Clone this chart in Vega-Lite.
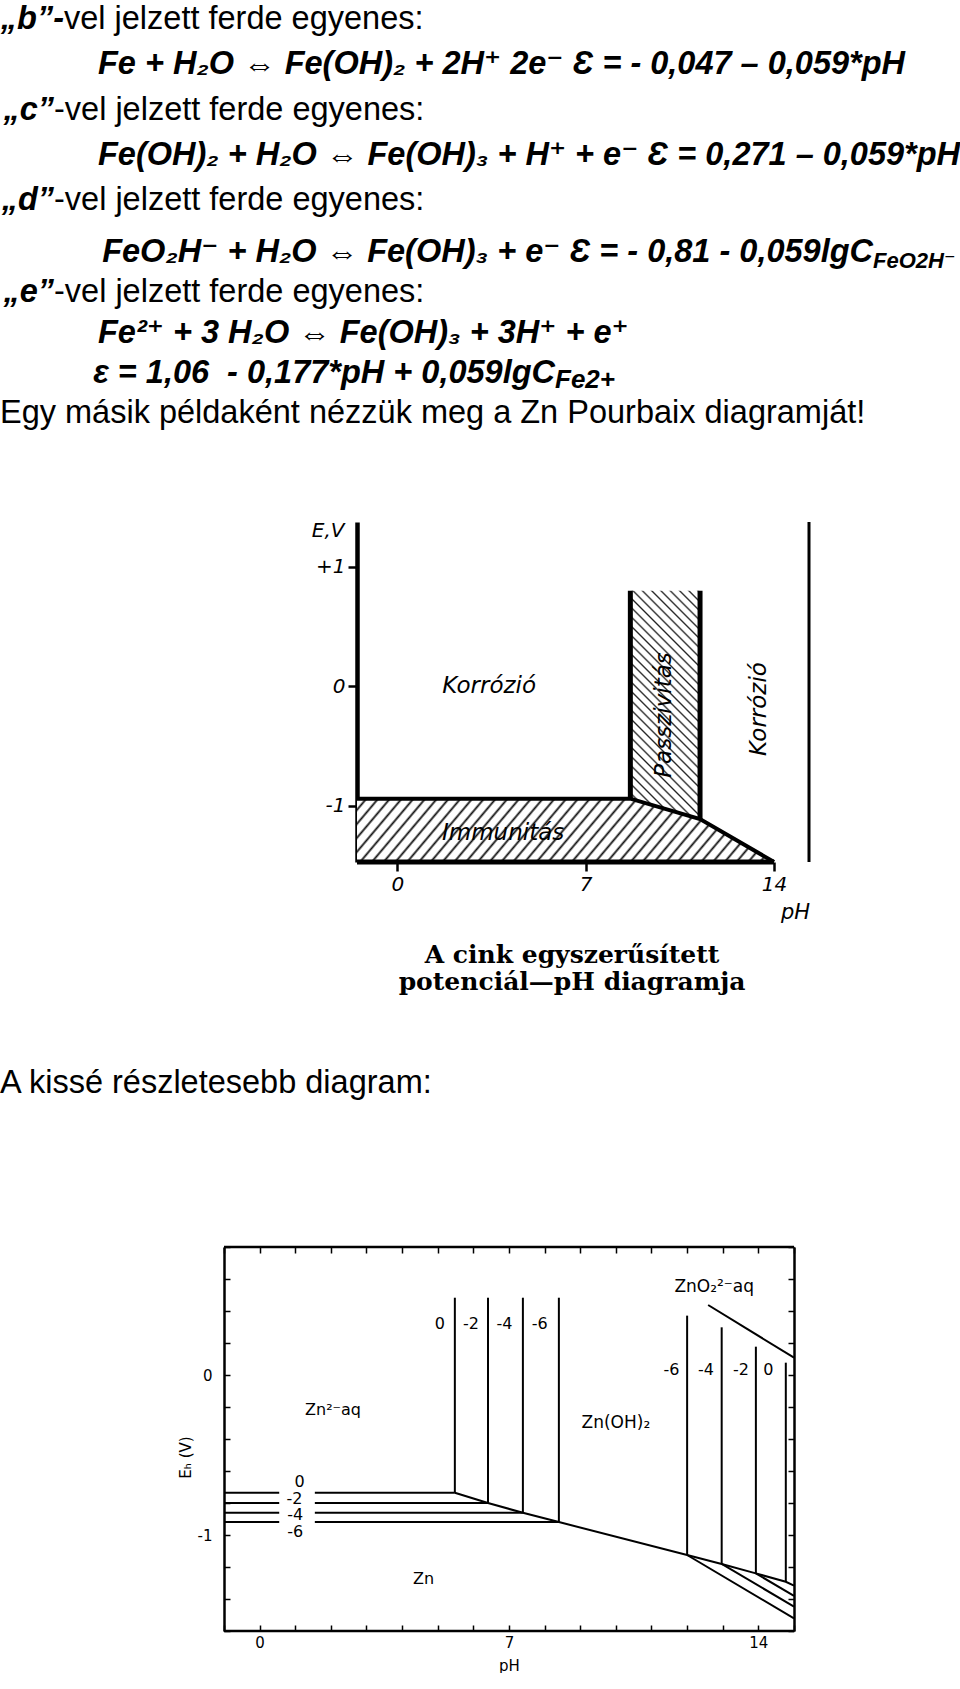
{
  "$schema": "https://vega.github.io/schema/vega-lite/v6.json",
  "padding": 0,
  "spacing": 0,
  "bounds": "flush",
  "background": "white",
  "config": {
    "view": {"stroke": null},
    "axis": {"grid": false, "domainColor": "#000", "tickColor": "#000", "labelColor": "#000", "titleColor": "#000"},
    "text": {"color": "#000"}
  },
  "datasets": {
    "page1": [
      {"line": 1, "col": 2, "role": "marker", "text": "„b”-"},
      {"line": 1, "col": 2, "role": "plain", "text": "vel jelzett ferde egyenes:"},
      {"line": 2, "col": 3, "role": "eq", "text": "Fe + H₂O ⇔ Fe(OH)₂ + 2H⁺ 2e⁻ Ɛ = - 0,047 – 0,059*pH"},
      {"line": 3, "col": 1, "role": "marker", "text": "„c”"},
      {"line": 3, "col": 1, "role": "plain", "text": "-vel jelzett ferde egyenes:"},
      {"line": 4, "col": 3, "role": "eq", "text": "Fe(OH)₂ + H₂O ⇔ Fe(OH)₃ + H⁺ + e⁻ Ɛ = 0,271 – 0,059*pH"},
      {"line": 5, "col": 1, "role": "marker", "text": "„d”"},
      {"line": 5, "col": 1, "role": "plain", "text": "-vel jelzett ferde egyenes:"},
      {"line": 6, "col": 5, "role": "eqr", "text": "FeO₂H⁻ + H₂O ⇔ Fe(OH)₃ + e⁻ Ɛ = - 0,81 - 0,059lgC"},
      {"line": 6, "col": 5, "role": "sub", "text": "FeO2H⁻"},
      {"line": 7, "col": 1, "role": "marker", "text": "„e”"},
      {"line": 7, "col": 1, "role": "plain", "text": "-vel jelzett ferde egyenes:"},
      {"line": 8, "col": 3, "role": "eq", "text": "Fe²⁺ + 3 H₂O ⇔ Fe(OH)₃ + 3H⁺ + e⁺"},
      {"line": 9, "col": 4, "role": "eqr", "text": "ε = 1,06 \u00a0- 0,177*pH + 0,059lgC"},
      {"line": 9, "col": 4, "role": "sub", "text": "Fe2+"},
      {"line": 10, "col": 0, "role": "plain", "text": "Egy másik példaként nézzük meg a Zn Pourbaix diagramját!"}
    ],
    "page2": [
      {"line": 1, "col": 1, "role": "cap", "text": "A cink egyszerűsített"},
      {"line": 2, "col": 1, "role": "cap", "text": "potenciál—pH diagramja"},
      {"line": 3, "col": 0, "role": "plain", "text": "A kissé részletesebb diagram:"}
    ],
    "zn1Immunity": [
      {"pH": -1.5, "E": -0.94},
      {"pH": 8.66, "E": -0.94},
      {"pH": 11.25, "E": -1.11},
      {"pH": 14, "E": -1.47}
    ],
    "zn1Passivity": [
      {"pH": 8.66, "E": 0.8, "E2": -0.94},
      {"pH": 11.25, "E": 0.8, "E2": -1.11}
    ],
    "zn1Lines": [
      {"part": "passive", "pH": 8.66, "E": -0.94, "pH2": 8.66, "E2": 0.8},
      {"part": "passive", "pH": 11.25, "E": -1.11, "pH2": 11.25, "E2": 0.8},
      {"part": "base", "pH": -1.5, "E": -1.47, "pH2": 14, "E2": -1.47},
      {"part": "edge", "pH": 15.3, "E": -1.47, "pH2": 15.3, "E2": 1.375}
    ],
    "zn1Labels": [
      {"dir": "h", "pH": 3.41, "E": 0.0, "label": "Korrózió"},
      {"dir": "h", "pH": 3.93, "E": -1.23, "label": "Immunitás"},
      {"dir": "v", "pH": 9.9, "E": -0.24, "label": "Passzivitás"},
      {"dir": "v", "pH": 13.45, "E": -0.19, "label": "Korrózió"}
    ],
    "zn2Frame": [
      {"pH": -1, "E": -1.6, "pH2": 15, "E2": -1.6},
      {"pH": -1, "E": 0.8, "pH2": 15, "E2": 0.8}
    ],
    "zn2Lines": [
      {"seg": "h0a", "i": 0, "pH": -1, "E": -0.736}, {"seg": "h0a", "i": 1, "pH": 0.55, "E": -0.736},
      {"seg": "h0b", "i": 0, "pH": 1.55, "E": -0.736}, {"seg": "h0b", "i": 1, "pH": 5.48, "E": -0.736},
      {"seg": "h2a", "i": 0, "pH": -1, "E": -0.8}, {"seg": "h2a", "i": 1, "pH": 0.55, "E": -0.8},
      {"seg": "h2b", "i": 0, "pH": 1.55, "E": -0.8}, {"seg": "h2b", "i": 1, "pH": 6.41, "E": -0.8},
      {"seg": "h4a", "i": 0, "pH": -1, "E": -0.861}, {"seg": "h4a", "i": 1, "pH": 0.55, "E": -0.861},
      {"seg": "h4b", "i": 0, "pH": 1.55, "E": -0.861}, {"seg": "h4b", "i": 1, "pH": 7.39, "E": -0.861},
      {"seg": "h6a", "i": 0, "pH": -1, "E": -0.919}, {"seg": "h6a", "i": 1, "pH": 0.55, "E": -0.919},
      {"seg": "h6b", "i": 0, "pH": 1.55, "E": -0.919}, {"seg": "h6b", "i": 1, "pH": 8.4, "E": -0.919},
      {"seg": "v0", "i": 0, "pH": 5.48, "E": -0.736}, {"seg": "v0", "i": 1, "pH": 5.48, "E": 0.483},
      {"seg": "v2", "i": 0, "pH": 6.41, "E": -0.8}, {"seg": "v2", "i": 1, "pH": 6.41, "E": 0.483},
      {"seg": "v4", "i": 0, "pH": 7.39, "E": -0.861}, {"seg": "v4", "i": 1, "pH": 7.39, "E": 0.483},
      {"seg": "v6", "i": 0, "pH": 8.4, "E": -0.919}, {"seg": "v6", "i": 1, "pH": 8.4, "E": 0.483},
      {"seg": "sl", "i": 0, "pH": 5.48, "E": -0.736},
      {"seg": "sl", "i": 1, "pH": 6.41, "E": -0.8},
      {"seg": "sl", "i": 2, "pH": 7.39, "E": -0.861},
      {"seg": "sl", "i": 3, "pH": 8.4, "E": -0.919},
      {"seg": "sl", "i": 4, "pH": 12, "E": -1.125},
      {"seg": "sl", "i": 5, "pH": 12.97, "E": -1.181},
      {"seg": "sl", "i": 6, "pH": 13.93, "E": -1.24},
      {"seg": "sl", "i": 7, "pH": 14.77, "E": -1.292},
      {"seg": "sl", "i": 8, "pH": 15, "E": -1.316},
      {"seg": "r6", "i": 0, "pH": 12, "E": -1.125}, {"seg": "r6", "i": 1, "pH": 12, "E": 0.371},
      {"seg": "r4", "i": 0, "pH": 12.97, "E": -1.181}, {"seg": "r4", "i": 1, "pH": 12.97, "E": 0.298},
      {"seg": "r2", "i": 0, "pH": 13.93, "E": -1.24}, {"seg": "r2", "i": 1, "pH": 13.93, "E": 0.177},
      {"seg": "r0", "i": 0, "pH": 14.77, "E": -1.292}, {"seg": "r0", "i": 1, "pH": 14.77, "E": 0.077},
      {"seg": "f6", "i": 0, "pH": 12, "E": -1.125}, {"seg": "f6", "i": 1, "pH": 15, "E": -1.521},
      {"seg": "f4", "i": 0, "pH": 12.97, "E": -1.181}, {"seg": "f4", "i": 1, "pH": 15, "E": -1.448},
      {"seg": "f2", "i": 0, "pH": 13.93, "E": -1.24}, {"seg": "f2", "i": 1, "pH": 15, "E": -1.381},
      {"seg": "zo", "i": 0, "pH": 12.59, "E": 0.4375}, {"seg": "zo", "i": 1, "pH": 15, "E": 0.108}
    ],
    "zn2Labels": [
      {"pH": 5.06, "E": 0.317, "label": "0"},
      {"pH": 5.93, "E": 0.317, "label": "-2"},
      {"pH": 6.87, "E": 0.317, "label": "-4"},
      {"pH": 7.86, "E": 0.317, "label": "-6"},
      {"pH": 11.56, "E": 0.031, "label": "-6"},
      {"pH": 12.53, "E": 0.031, "label": "-4"},
      {"pH": 13.51, "E": 0.031, "label": "-2"},
      {"pH": 14.28, "E": 0.031, "label": "0"},
      {"pH": 12.76, "E": 0.552, "label": "ZnO₂²⁻aq"},
      {"pH": 2.06, "E": -0.219, "label": "Zn²⁻aq"},
      {"pH": 10.0, "E": -0.3, "label": "Zn(OH)₂"},
      {"pH": 4.6, "E": -1.277, "label": "Zn"},
      {"pH": 1.12, "E": -0.667, "label": "0"},
      {"pH": 0.98, "E": -0.777, "label": "-2"},
      {"pH": 1.0, "E": -0.875, "label": "-4"},
      {"pH": 1.0, "E": -0.979, "label": "-6"}
    ]
  },
  "vconcat": [
    {
      "width": 960,
      "height": 522,
      "data": {"name": "page1"},
      "encoding": {
        "x": {"field": "col", "type": "quantitative", "scale": {"domain": [0, 1, 2, 3, 4, 5], "range": [0, 54, 64, 98, 555, 873], "nice": false, "zero": false}, "axis": null},
        "y": {"field": "line", "type": "quantitative", "scale": {"domain": [1, 5, 6, 10], "range": [19, 200, 252, 413], "nice": false, "zero": false}, "axis": null},
        "text": {"field": "text"}
      },
      "layer": [
        {"transform": [{"filter": "datum.role == 'marker'"}], "mark": {"type": "text", "align": "right", "baseline": "middle", "font": "Liberation Sans, DejaVu Sans", "fontSize": 32.5, "fontWeight": "bold", "fontStyle": "italic"}},
        {"transform": [{"filter": "datum.role == 'plain'"}], "mark": {"type": "text", "align": "left", "baseline": "middle", "font": "Liberation Sans, DejaVu Sans", "fontSize": 32.5}},
        {"transform": [{"filter": "datum.role == 'eq'"}], "mark": {"type": "text", "align": "left", "baseline": "middle", "font": "Liberation Sans, DejaVu Sans", "fontSize": 32.5, "fontWeight": "bold", "fontStyle": "italic"}},
        {"transform": [{"filter": "datum.role == 'eqr'"}], "mark": {"type": "text", "align": "right", "baseline": "middle", "font": "Liberation Sans, DejaVu Sans", "fontSize": 32.5, "fontWeight": "bold", "fontStyle": "italic"}},
        {"transform": [{"filter": "datum.role == 'sub' && datum.line == 6"}], "mark": {"type": "text", "align": "left", "baseline": "middle", "dy": 9, "font": "Liberation Sans, DejaVu Sans", "fontSize": 22, "fontWeight": "bold", "fontStyle": "italic"}},
        {"transform": [{"filter": "datum.role == 'sub' && datum.line == 9"}], "mark": {"type": "text", "align": "left", "baseline": "middle", "dy": 7, "font": "Liberation Sans, DejaVu Sans", "fontSize": 26, "fontWeight": "bold", "fontStyle": "italic"}}
      ]
    },
    {
      "width": 809,
      "height": 340,
      "encoding": {
        "x": {
          "field": "pH", "type": "quantitative",
          "scale": {"domain": [-14.77, 15.3], "nice": false, "zero": false},
          "axis": {
            "values": [0, 7, 14], "domain": false, "tickSize": 9, "tickWidth": 2.5,
            "labelFont": "DejaVu Sans", "labelFontStyle": "italic", "labelFontSize": 20, "labelPadding": 3,
            "title": "pH", "titleX": 795, "titleY": 50, "titleAlign": "center", "titleBaseline": "middle",
            "titleFont": "DejaVu Sans", "titleFontStyle": "italic", "titleFontWeight": "normal", "titleFontSize": 21
          }
        },
        "y": {
          "field": "E", "type": "quantitative",
          "scale": {"domain": [-1.47, 1.375], "nice": false, "zero": false},
          "axis": {
            "offset": -357,
            "values": [-1, 0, 1],
            "labelExpr": "datum.value > 0 ? '+1' : (datum.value < 0 ? '-1' : '0')",
            "domainWidth": 4.5, "tickSize": 9, "tickWidth": 2.5,
            "labelFont": "DejaVu Sans", "labelFontStyle": "italic", "labelFontSize": 20, "labelPadding": 3,
            "title": "E,V", "titleAngle": 0, "titleX": -13, "titleY": 8, "titleAlign": "right", "titleBaseline": "middle",
            "titleFont": "DejaVu Sans", "titleFontStyle": "italic", "titleFontWeight": "normal", "titleFontSize": 20
          }
        }
      },
      "layer": [
        {
          "data": {"name": "zn1Immunity"},
          "mark": {
            "type": "area", "stroke": null,
            "fill": {
              "gradient": "linear", "x1": 0, "y1": 0, "x2": 1.11, "y2": 0.142,
              "stops": [
                {"offset": 0.015, "color": "#fff"}, {"offset": 0.02, "color": "#111"}, {"offset": 0.025, "color": "#fff"},
                {"offset": 0.04, "color": "#fff"}, {"offset": 0.045, "color": "#111"}, {"offset": 0.05, "color": "#fff"},
                {"offset": 0.065, "color": "#fff"}, {"offset": 0.07, "color": "#111"}, {"offset": 0.075, "color": "#fff"},
                {"offset": 0.09, "color": "#fff"}, {"offset": 0.095, "color": "#111"}, {"offset": 0.1, "color": "#fff"},
                {"offset": 0.115, "color": "#fff"}, {"offset": 0.12, "color": "#111"}, {"offset": 0.125, "color": "#fff"},
                {"offset": 0.14, "color": "#fff"}, {"offset": 0.145, "color": "#111"}, {"offset": 0.15, "color": "#fff"},
                {"offset": 0.165, "color": "#fff"}, {"offset": 0.17, "color": "#111"}, {"offset": 0.175, "color": "#fff"},
                {"offset": 0.19, "color": "#fff"}, {"offset": 0.195, "color": "#111"}, {"offset": 0.2, "color": "#fff"},
                {"offset": 0.215, "color": "#fff"}, {"offset": 0.22, "color": "#111"}, {"offset": 0.225, "color": "#fff"},
                {"offset": 0.24, "color": "#fff"}, {"offset": 0.245, "color": "#111"}, {"offset": 0.25, "color": "#fff"},
                {"offset": 0.265, "color": "#fff"}, {"offset": 0.27, "color": "#111"}, {"offset": 0.275, "color": "#fff"},
                {"offset": 0.29, "color": "#fff"}, {"offset": 0.295, "color": "#111"}, {"offset": 0.3, "color": "#fff"},
                {"offset": 0.315, "color": "#fff"}, {"offset": 0.32, "color": "#111"}, {"offset": 0.325, "color": "#fff"},
                {"offset": 0.34, "color": "#fff"}, {"offset": 0.345, "color": "#111"}, {"offset": 0.35, "color": "#fff"},
                {"offset": 0.365, "color": "#fff"}, {"offset": 0.37, "color": "#111"}, {"offset": 0.375, "color": "#fff"},
                {"offset": 0.39, "color": "#fff"}, {"offset": 0.395, "color": "#111"}, {"offset": 0.4, "color": "#fff"},
                {"offset": 0.415, "color": "#fff"}, {"offset": 0.42, "color": "#111"}, {"offset": 0.425, "color": "#fff"},
                {"offset": 0.44, "color": "#fff"}, {"offset": 0.445, "color": "#111"}, {"offset": 0.45, "color": "#fff"},
                {"offset": 0.465, "color": "#fff"}, {"offset": 0.47, "color": "#111"}, {"offset": 0.475, "color": "#fff"},
                {"offset": 0.49, "color": "#fff"}, {"offset": 0.495, "color": "#111"}, {"offset": 0.5, "color": "#fff"},
                {"offset": 0.515, "color": "#fff"}, {"offset": 0.52, "color": "#111"}, {"offset": 0.525, "color": "#fff"},
                {"offset": 0.54, "color": "#fff"}, {"offset": 0.545, "color": "#111"}, {"offset": 0.55, "color": "#fff"},
                {"offset": 0.565, "color": "#fff"}, {"offset": 0.57, "color": "#111"}, {"offset": 0.575, "color": "#fff"},
                {"offset": 0.59, "color": "#fff"}, {"offset": 0.595, "color": "#111"}, {"offset": 0.6, "color": "#fff"},
                {"offset": 0.615, "color": "#fff"}, {"offset": 0.62, "color": "#111"}, {"offset": 0.625, "color": "#fff"},
                {"offset": 0.64, "color": "#fff"}, {"offset": 0.645, "color": "#111"}, {"offset": 0.65, "color": "#fff"},
                {"offset": 0.665, "color": "#fff"}, {"offset": 0.67, "color": "#111"}, {"offset": 0.675, "color": "#fff"},
                {"offset": 0.69, "color": "#fff"}, {"offset": 0.695, "color": "#111"}, {"offset": 0.7, "color": "#fff"},
                {"offset": 0.715, "color": "#fff"}, {"offset": 0.72, "color": "#111"}, {"offset": 0.725, "color": "#fff"},
                {"offset": 0.74, "color": "#fff"}, {"offset": 0.745, "color": "#111"}, {"offset": 0.75, "color": "#fff"},
                {"offset": 0.765, "color": "#fff"}, {"offset": 0.77, "color": "#111"}, {"offset": 0.775, "color": "#fff"},
                {"offset": 0.79, "color": "#fff"}, {"offset": 0.795, "color": "#111"}, {"offset": 0.8, "color": "#fff"},
                {"offset": 0.815, "color": "#fff"}, {"offset": 0.82, "color": "#111"}, {"offset": 0.825, "color": "#fff"},
                {"offset": 0.84, "color": "#fff"}, {"offset": 0.845, "color": "#111"}, {"offset": 0.85, "color": "#fff"},
                {"offset": 0.865, "color": "#fff"}, {"offset": 0.87, "color": "#111"}, {"offset": 0.875, "color": "#fff"},
                {"offset": 0.89, "color": "#fff"}, {"offset": 0.895, "color": "#111"}, {"offset": 0.9, "color": "#fff"},
                {"offset": 0.915, "color": "#fff"}, {"offset": 0.92, "color": "#111"}, {"offset": 0.925, "color": "#fff"},
                {"offset": 0.94, "color": "#fff"}, {"offset": 0.945, "color": "#111"}, {"offset": 0.95, "color": "#fff"},
                {"offset": 0.965, "color": "#fff"}, {"offset": 0.97, "color": "#111"}, {"offset": 0.975, "color": "#fff"},
                {"offset": 0.99, "color": "#fff"}, {"offset": 0.995, "color": "#111"}, {"offset": 1, "color": "#fff"}
              ]
            }
          },
          "encoding": {"y2": {"datum": -1.47}}
        },
        {
          "data": {"name": "zn1Passivity"},
          "mark": {
            "type": "area", "stroke": null,
            "fill": {
              "gradient": "linear", "x1": 0, "y1": 1, "x2": 0.456, "y2": -0.4925,
              "stops": [
                {"offset": 0.015, "color": "#fff"}, {"offset": 0.02, "color": "#222"}, {"offset": 0.025, "color": "#fff"},
                {"offset": 0.04, "color": "#fff"}, {"offset": 0.045, "color": "#222"}, {"offset": 0.05, "color": "#fff"},
                {"offset": 0.065, "color": "#fff"}, {"offset": 0.07, "color": "#222"}, {"offset": 0.075, "color": "#fff"},
                {"offset": 0.09, "color": "#fff"}, {"offset": 0.095, "color": "#222"}, {"offset": 0.1, "color": "#fff"},
                {"offset": 0.115, "color": "#fff"}, {"offset": 0.12, "color": "#222"}, {"offset": 0.125, "color": "#fff"},
                {"offset": 0.14, "color": "#fff"}, {"offset": 0.145, "color": "#222"}, {"offset": 0.15, "color": "#fff"},
                {"offset": 0.165, "color": "#fff"}, {"offset": 0.17, "color": "#222"}, {"offset": 0.175, "color": "#fff"},
                {"offset": 0.19, "color": "#fff"}, {"offset": 0.195, "color": "#222"}, {"offset": 0.2, "color": "#fff"},
                {"offset": 0.215, "color": "#fff"}, {"offset": 0.22, "color": "#222"}, {"offset": 0.225, "color": "#fff"},
                {"offset": 0.24, "color": "#fff"}, {"offset": 0.245, "color": "#222"}, {"offset": 0.25, "color": "#fff"},
                {"offset": 0.265, "color": "#fff"}, {"offset": 0.27, "color": "#222"}, {"offset": 0.275, "color": "#fff"},
                {"offset": 0.29, "color": "#fff"}, {"offset": 0.295, "color": "#222"}, {"offset": 0.3, "color": "#fff"},
                {"offset": 0.315, "color": "#fff"}, {"offset": 0.32, "color": "#222"}, {"offset": 0.325, "color": "#fff"},
                {"offset": 0.34, "color": "#fff"}, {"offset": 0.345, "color": "#222"}, {"offset": 0.35, "color": "#fff"},
                {"offset": 0.365, "color": "#fff"}, {"offset": 0.37, "color": "#222"}, {"offset": 0.375, "color": "#fff"},
                {"offset": 0.39, "color": "#fff"}, {"offset": 0.395, "color": "#222"}, {"offset": 0.4, "color": "#fff"},
                {"offset": 0.415, "color": "#fff"}, {"offset": 0.42, "color": "#222"}, {"offset": 0.425, "color": "#fff"},
                {"offset": 0.44, "color": "#fff"}, {"offset": 0.445, "color": "#222"}, {"offset": 0.45, "color": "#fff"},
                {"offset": 0.465, "color": "#fff"}, {"offset": 0.47, "color": "#222"}, {"offset": 0.475, "color": "#fff"},
                {"offset": 0.49, "color": "#fff"}, {"offset": 0.495, "color": "#222"}, {"offset": 0.5, "color": "#fff"},
                {"offset": 0.515, "color": "#fff"}, {"offset": 0.52, "color": "#222"}, {"offset": 0.525, "color": "#fff"},
                {"offset": 0.54, "color": "#fff"}, {"offset": 0.545, "color": "#222"}, {"offset": 0.55, "color": "#fff"},
                {"offset": 0.565, "color": "#fff"}, {"offset": 0.57, "color": "#222"}, {"offset": 0.575, "color": "#fff"},
                {"offset": 0.59, "color": "#fff"}, {"offset": 0.595, "color": "#222"}, {"offset": 0.6, "color": "#fff"},
                {"offset": 0.615, "color": "#fff"}, {"offset": 0.62, "color": "#222"}, {"offset": 0.625, "color": "#fff"},
                {"offset": 0.64, "color": "#fff"}, {"offset": 0.645, "color": "#222"}, {"offset": 0.65, "color": "#fff"},
                {"offset": 0.665, "color": "#fff"}, {"offset": 0.67, "color": "#222"}, {"offset": 0.675, "color": "#fff"},
                {"offset": 0.69, "color": "#fff"}, {"offset": 0.695, "color": "#222"}, {"offset": 0.7, "color": "#fff"},
                {"offset": 0.715, "color": "#fff"}, {"offset": 0.72, "color": "#222"}, {"offset": 0.725, "color": "#fff"},
                {"offset": 0.74, "color": "#fff"}, {"offset": 0.745, "color": "#222"}, {"offset": 0.75, "color": "#fff"},
                {"offset": 0.765, "color": "#fff"}, {"offset": 0.77, "color": "#222"}, {"offset": 0.775, "color": "#fff"},
                {"offset": 0.79, "color": "#fff"}, {"offset": 0.795, "color": "#222"}, {"offset": 0.8, "color": "#fff"},
                {"offset": 0.815, "color": "#fff"}, {"offset": 0.82, "color": "#222"}, {"offset": 0.825, "color": "#fff"},
                {"offset": 0.84, "color": "#fff"}, {"offset": 0.845, "color": "#222"}, {"offset": 0.85, "color": "#fff"},
                {"offset": 0.865, "color": "#fff"}, {"offset": 0.87, "color": "#222"}, {"offset": 0.875, "color": "#fff"},
                {"offset": 0.89, "color": "#fff"}, {"offset": 0.895, "color": "#222"}, {"offset": 0.9, "color": "#fff"},
                {"offset": 0.915, "color": "#fff"}, {"offset": 0.92, "color": "#222"}, {"offset": 0.925, "color": "#fff"},
                {"offset": 0.94, "color": "#fff"}, {"offset": 0.945, "color": "#222"}, {"offset": 0.95, "color": "#fff"},
                {"offset": 0.965, "color": "#fff"}, {"offset": 0.97, "color": "#222"}, {"offset": 0.975, "color": "#fff"},
                {"offset": 0.99, "color": "#fff"}, {"offset": 0.995, "color": "#222"}, {"offset": 1, "color": "#fff"}
              ]
            }
          },
          "encoding": {"y2": {"field": "E2"}}
        },
        {
          "data": {"name": "zn1Immunity"},
          "mark": {"type": "line", "color": "#000", "strokeWidth": 4}
        },
        {
          "data": {"name": "zn1Lines"},
          "transform": [{"filter": "datum.part != 'edge'"}],
          "mark": {"type": "rule", "color": "#000", "strokeWidth": 5},
          "encoding": {"x2": {"field": "pH2"}, "y2": {"field": "E2"}}
        },
        {
          "data": {"name": "zn1Lines"},
          "transform": [{"filter": "datum.part == 'edge'"}],
          "mark": {"type": "rule", "color": "#000", "strokeWidth": 3},
          "encoding": {"x2": {"field": "pH2"}, "y2": {"field": "E2"}}
        },
        {
          "data": {"name": "zn1Labels"},
          "transform": [{"filter": "datum.dir == 'h'"}],
          "mark": {"type": "text", "align": "center", "baseline": "middle", "font": "DejaVu Sans", "fontStyle": "italic", "fontSize": 23},
          "encoding": {"text": {"field": "label"}}
        },
        {
          "data": {"name": "zn1Labels"},
          "transform": [{"filter": "datum.dir == 'v'"}],
          "mark": {"type": "text", "align": "center", "baseline": "middle", "angle": 270, "font": "DejaVu Sans", "fontStyle": "italic", "fontSize": 23},
          "encoding": {"text": {"field": "label"}}
        }
      ]
    },
    {
      "width": 960,
      "height": 385,
      "data": {"name": "page2"},
      "encoding": {
        "x": {"field": "col", "type": "quantitative", "scale": {"domain": [0, 1], "range": [0, 572], "nice": false, "zero": false}, "axis": null},
        "y": {"field": "line", "type": "quantitative", "scale": {"domain": [1, 2, 3], "range": [93, 120, 221], "nice": false, "zero": false}, "axis": null},
        "text": {"field": "text"}
      },
      "layer": [
        {"transform": [{"filter": "datum.role == 'cap'"}], "mark": {"type": "text", "align": "center", "baseline": "middle", "font": "DejaVu Serif", "fontSize": 25, "fontWeight": "bold"}},
        {"transform": [{"filter": "datum.role == 'plain'"}], "mark": {"type": "text", "align": "left", "baseline": "middle", "font": "Liberation Sans, DejaVu Sans", "fontSize": 32.5}}
      ]
    },
    {
      "width": 794,
      "height": 384,
      "layer": [
        {
          "data": {"name": "zn2Lines"},
          "mark": {"type": "line", "color": "#000", "strokeWidth": 2},
          "encoding": {
            "x": {
              "field": "pH", "type": "quantitative",
              "scale": {"domain": [-7.2877, 15], "nice": false, "zero": false},
              "axis": {
                "orient": "bottom",
                "values": [-1, 0, 1, 2, 3, 4, 5, 6, 7, 8, 9, 10, 11, 12, 13, 14, 15],
                "labelExpr": "(datum.value == 0 || datum.value == 7 || datum.value == 14) ? datum.label : ''",
                "labelOverlap": false, "labelFlush": false,
                "domain": false, "tickSize": -6, "tickWidth": 1.5,
                "labelFont": "DejaVu Sans", "labelFontSize": 15, "labelPadding": 10,
                "title": "pH", "titleFont": "DejaVu Sans", "titleFontSize": 15, "titleFontWeight": "normal",
                "titleX": 509, "titleY": 34, "titleAlign": "center", "titleBaseline": "middle"
              }
            },
            "y": {
              "field": "E", "type": "quantitative",
              "scale": {"domain": [-1.6, 0.8], "nice": false, "zero": false},
              "axis": {
                "orient": "left",
                "offset": -224,
                "values": [-1.6, -1.4, -1.2, -1, -0.8, -0.6, -0.4, -0.2, 0, 0.2, 0.4, 0.6, 0.8],
                "labelExpr": "datum.value == 0 ? '0' : (datum.value == -1 ? '-1' : '')",
                "labelOverlap": false, "labelFlush": false,
                "domainWidth": 2.5, "tickSize": -6, "tickWidth": 1.5,
                "labelFont": "DejaVu Sans", "labelFontSize": 15, "labelPadding": 18,
                "title": "Eₕ (V)", "titleFont": "DejaVu Sans", "titleFontSize": 15, "titleFontWeight": "normal",
                "titleX": -39, "titleY": 210, "titleAlign": "center", "titleBaseline": "middle"
              }
            },
            "detail": {"field": "seg"},
            "order": {"field": "i", "type": "quantitative"}
          }
        },
        {
          "data": {"name": "zn2Frame"},
          "mark": {"type": "rule", "color": "#000", "strokeWidth": 2.5},
          "encoding": {
            "x": {"field": "pH", "type": "quantitative", "axis": null},
            "y": {"field": "E", "type": "quantitative", "axis": null},
            "x2": {"field": "pH2"},
            "y2": {"field": "E2"}
          }
        },
        {
          "data": {"name": "zn2Labels"},
          "mark": {"type": "text", "align": "center", "baseline": "middle", "font": "DejaVu Sans", "fontSize": 16},
          "encoding": {
            "x": {
              "field": "pH", "type": "quantitative",
              "scale": {"domain": [-7.2877, 15], "nice": false, "zero": false},
              "axis": {
                "orient": "top",
                "values": [-1, 0, 1, 2, 3, 4, 5, 6, 7, 8, 9, 10, 11, 12, 13, 14, 15],
                "labels": false, "domain": false, "tickSize": -6, "tickWidth": 1.5, "title": null
              }
            },
            "y": {
              "field": "E", "type": "quantitative",
              "scale": {"domain": [-1.6, 0.8], "nice": false, "zero": false},
              "axis": {
                "orient": "right",
                "values": [-1.6, -1.4, -1.2, -1, -0.8, -0.6, -0.4, -0.2, 0, 0.2, 0.4, 0.6, 0.8],
                "labels": false, "domainWidth": 2.5, "tickSize": -6, "tickWidth": 1.5, "title": null
              }
            },
            "text": {"field": "label"},
            "size": {"condition": {"test": "datum.label == 'Zn(OH)₂' || datum.label == 'ZnO₂²⁻aq'", "value": 17}, "value": 16}
          }
        }
      ],
      "resolve": {"axis": {"x": "independent", "y": "independent"}}
    }
  ]
}
